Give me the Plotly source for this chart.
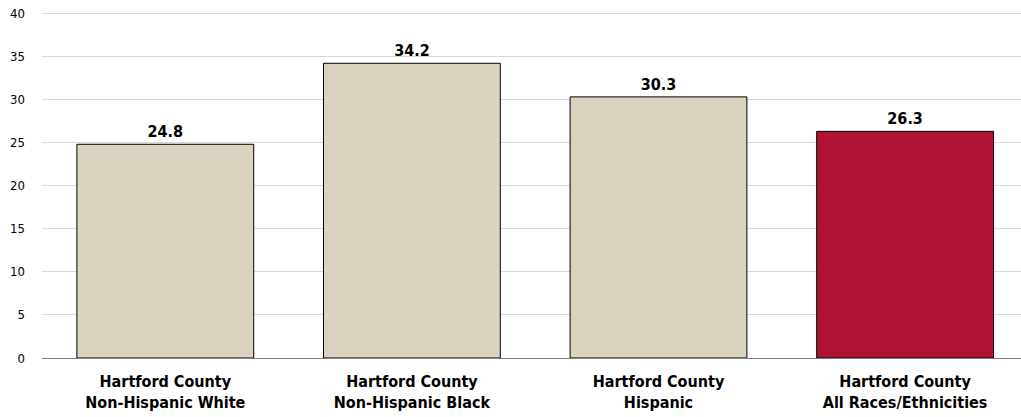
import plotly.graph_objects as go

categories = ["Hartford County<br>Non-Hispanic White", "Hartford County<br>Non-Hispanic Black",
              "Hartford County<br>Hispanic", "Hartford County<br>All Races/Ethnicities"]
values = [24.8, 34.2, 30.3, 26.3]
colors = ["#D8D2BF", "#D8D2BF", "#D8D2BF", "#B01234"]
y_ticks = [0, 5, 10, 15, 20, 25, 30, 35, 40]

FONT = "DejaVu Sans Condensed, Liberation Sans Narrow, Arial Narrow, sans-serif"

fig = go.Figure(go.Bar(
    x=list(range(len(categories))), y=values,
    marker=dict(color=colors, line=dict(color="#000000", width=1)),
    width=0.717,
    text=[f"{v:.1f}" for v in values], textposition="outside",
    textfont=dict(family=FONT, size=16, color="#000000"),
    texttemplate="<b>%{text}</b>", cliponaxis=False,
))

fig.update_layout(
    width=1021, height=417,
    margin=dict(l=42, r=0, t=12, b=59),
    plot_bgcolor="white", paper_bgcolor="white",
    showlegend=False,
    font=dict(family=FONT, color="#000000"),
    xaxis=dict(
        tickmode="array", tickvals=list(range(len(categories))),
        ticktext=[f"<b>{c}</b>" for c in categories],
        range=[-0.5, 3.47], showgrid=False, zeroline=False,
        tickfont=dict(family=FONT, size=16, color="#000000"),
        ticks="", showline=False, automargin=False, ticklabelstandoff=12,
    ),
    yaxis=dict(
        range=[0, 40.15], tickvals=y_ticks, showgrid=True, gridcolor="#D9D9D9", gridwidth=1,
        zeroline=True, zerolinecolor="#808080", zerolinewidth=1,
        tickfont=dict(family=FONT, size=13, color="#000000"),
        ticks="", ticklabelstandoff=16, automargin=False,
        ticklabeloverflow="allow",
    ),
)

fig.write_html("out.html", config={"displayModeBar": False},
               post_script="document.body.style.margin='0';")
